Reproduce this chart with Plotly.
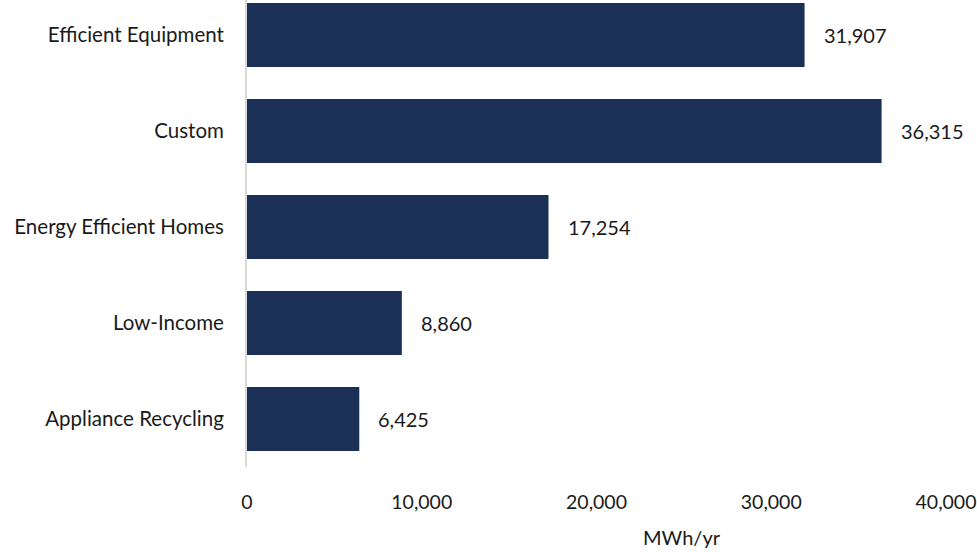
import plotly.graph_objects as go

categories = ["Efficient Equipment", "Custom", "Energy Efficient Homes", "Low-Income", "Appliance Recycling"]
values = [31907, 36315, 17254, 8860, 6425]
x_ticks = [0, 10000, 20000, 30000, 40000]
x_tick_labels = ["0", "10,000", "20,000", "30,000", "40,000"]
axis_title = "MWh/yr"

FONT = "Lato"
TEXT = "#1a1a1a"
BAR = "#1b3057"

PL, PR, PB = 247, 946, 467  # plot area edges in pixels

fig = go.Figure()
fig.add_trace(go.Bar(
    y=categories, x=values, orientation="h",
    marker=dict(color=BAR, line=dict(width=0)),
    hoverinfo="skip",
))

for c, v in zip(categories, values):
    fig.add_annotation(x=v, y=c, xref="x", yref="y", text=f"{v:,}",
                       showarrow=False, xanchor="left", xshift=17,
                       font=dict(family=FONT, size=20, color=TEXT))

fig.add_annotation(xref="paper", yref="paper",
                   x=(682 - PL) / (PR - PL), y=-(537 - PB) / PB,
                   text=axis_title, showarrow=False,
                   xanchor="center", yanchor="middle",
                   font=dict(family=FONT, size=20, color=TEXT))

fig.update_layout(
    width=977, height=552,
    margin=dict(l=PL, r=977 - PR, t=0, b=552 - PB, autoexpand=False),
    paper_bgcolor="white", plot_bgcolor="white",
    bargap=1/3,
    showlegend=False,
    font=dict(family=FONT, size=20, color=TEXT),
)
fig.update_xaxes(
    range=[0, 40000], tickvals=x_ticks, ticktext=x_tick_labels,
    showgrid=False, zeroline=False, showline=False, automargin=False,
    ticks="", ticklabelstandoff=21,
    tickfont=dict(family=FONT, size=19.5, color=TEXT),
)
fig.update_yaxes(
    categoryorder="array", categoryarray=categories,
    range=[4.5, -0.365], automargin=False,
    showgrid=False, zeroline=False,
    showline=True, linecolor="#d9d9d9", linewidth=2,
    ticks="", ticklabelstandoff=17,
    tickfont=dict(family=FONT, size=20.5, color=TEXT),
)

fig.write_html("out.html",
               config={"displayModeBar": False},
               post_script="document.body.style.margin='0';document.body.style.overflow='hidden';")
